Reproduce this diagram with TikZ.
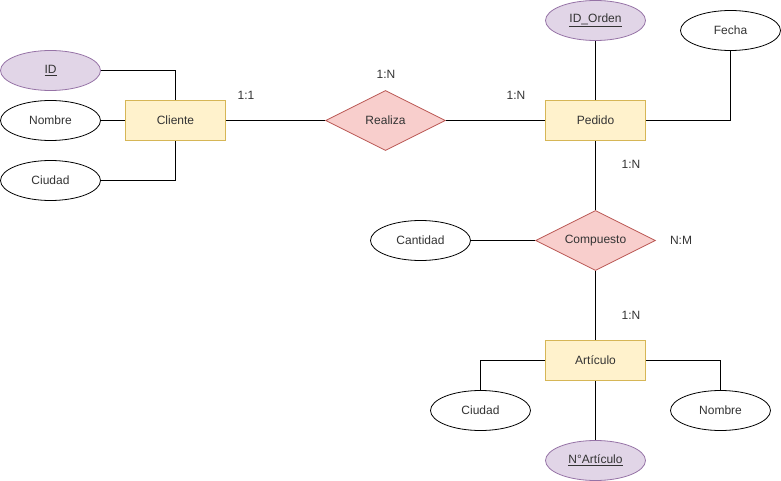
\documentclass[tikz,border=0pt]{standalone}
\usepackage{fontspec}
\setmainfont{Liberation Sans}
\usetikzlibrary{shapes.geometric}
\definecolor{purfill}{HTML}{E1D5E7}
\definecolor{purline}{HTML}{9673A6}
\definecolor{yelfill}{HTML}{FFF2CC}
\definecolor{yelline}{HTML}{D6B656}
\definecolor{redfill}{HTML}{F8CECC}
\definecolor{redline}{HTML}{B85450}
\definecolor{txt}{HTML}{333333}
\begin{document}
\begin{tikzpicture}[x=1pt,y=-1pt,
  every node/.style={font=\fontsize{12}{14}\selectfont, text=txt},
  attr/.style={ellipse, draw=black, fill=white, line width=0.8pt, minimum width=100pt, minimum height=40pt, inner sep=0pt},
  keyattr/.style={ellipse, draw=purline, fill=purfill, line width=0.8pt, minimum width=100pt, minimum height=40pt, inner sep=0pt},
  entity/.style={rectangle, draw=yelline, fill=yelfill, line width=0.8pt, minimum width=100pt, minimum height=40pt, inner sep=0pt},
  rel/.style={diamond, aspect=2, draw=redline, fill=redfill, line width=0.8pt, minimum width=120pt, minimum height=60pt, inner sep=0pt},
  card/.style={inner sep=0pt},
  conn/.style={draw=black, line width=0.8pt}]
\useasboundingbox (0,0) rectangle (781,481);
% Cliente side
\node[keyattr] (id) at (50.5,70.5) {\underline{ID}};
\node[attr] (nombre1) at (50.5,120.5) {Nombre};
\node[attr] (ciudad1) at (50.5,180.5) {Ciudad};
\node[entity] (cliente) at (175.5,120.5) {Cliente};
\node[rel] (realiza) at (385.5,120.5) {Realiza};
% Pedido side
\node[entity] (pedido) at (595.5,120.5) {Pedido};
\node[keyattr] (idorden) at (595.5,20.5) {\underline{ID\_Orden}};
\node[attr] (fecha) at (730.5,30.5) {Fecha};
\node[rel] (compuesto) at (595.5,240.5) {Compuesto};
\node[attr] (cantidad) at (420.5,240.5) {Cantidad};
% Articulo side
\node[entity] (articulo) at (595.5,360.5) {Artículo};
\node[attr] (ciudad2) at (480.5,410.5) {Ciudad};
\node[attr] (nombre2) at (720.5,410.5) {Nombre};
\node[keyattr] (narticulo) at (595.5,460.5) {\underline{N°Artículo}};
% cardinalities
\node[card] (c1) at (246,95) {1:1};
\node[card] (c2) at (386,74) {1:N};
\node[card] (c3) at (516,95) {1:N};
\node[card] (c4) at (631,164) {1:N};
\node[card] (c5) at (681,240) {N:M};
\node[card] (c6) at (631,315) {1:N};
% connectors
\draw[conn] (id.east) -| (cliente.north);
\draw[conn] (nombre1.east) -- (cliente.west);
\draw[conn] (ciudad1.east) -| (cliente.south);
\draw[conn] (cliente.east) -- (realiza.west);
\draw[conn] (realiza.east) -- (pedido.west);
\draw[conn] (pedido.north) -- (idorden.south);
\draw[conn] (pedido.east) -| (fecha.south);
\draw[conn] (pedido.south) -- (compuesto.north);
\draw[conn] (cantidad.east) -- (compuesto.west);
\draw[conn] (compuesto.south) -- (articulo.north);
\draw[conn] (articulo.west) -| (ciudad2.north);
\draw[conn] (articulo.east) -| (nombre2.north);
\draw[conn] (articulo.south) -- (narticulo.north);
\end{tikzpicture}
\end{document}
